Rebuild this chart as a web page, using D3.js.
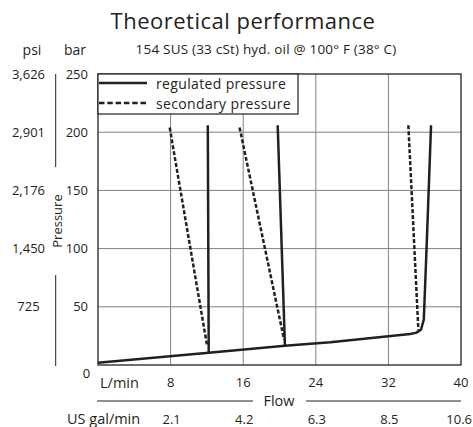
<!DOCTYPE html>
<html>
<head>
<meta charset="utf-8">
<script src="https://cdn.jsdelivr.net/npm/d3@7"></script>
<style>
  body { margin: 0; background: #fff; }
  svg text { font-family: "Open Sans", sans-serif; fill: #231f20; }
</style>
</head>
<body>
<svg id="canvas" width="473" height="427"></svg>
<script>
// chart values (flow in L/min, pressure in bar)
let barTicks = [50, 100, 150, 200, 250];
let psiLabels = ['725', '1,450', '2,176', '2,901', '3,626'];
let flowTicks = [8, 16, 24, 32, 40];
let galLabels = ['2.1', '4.2', '6.3', '8.5', '10.6'];

// regulated pressure: base line running into the third setting
let regBaseFlow = [0, 12.2, 20.6, 25.6, 34.4, 35.1, 35.6, 35.9, 36.2, 36.7];
let regBaseBar = [2, 10.5, 16.6, 19.5, 26.6, 27.8, 30.5, 39, 99, 206];
let reg1Flow = [12.1, 12.2];
let reg1Bar = [206, 10.5];
let reg2Flow = [19.8, 20.6];
let reg2Bar = [206, 16.6];

// secondary pressure
let sec1Flow = [7.9, 12.0];
let sec1Bar = [204, 17.6];
let sec2Flow = [15.6, 20.5];
let sec2Bar = [204, 21.9];
let sec3Flow = [34.2, 35.3];
let sec3Bar = [206, 30.4];

let canvas = d3.select('#canvas');

let plotLeft = 98, plotRight = 461, plotTop = 74, plotBottom = 365;
let wordSize = '14.5px', numSize = '13px';

let xScale = d3.scaleLinear().domain([0, 40]).range([plotLeft, plotRight]);
let yScale = d3.scaleLinear().domain([0, 250]).range([plotBottom, plotTop]);

let toPoints = (fx, by) => fx.map((f, i) => [f, by[i]]);

let line = d3.line()
    .x((d) => xScale(d[0]))
    .y((d) => yScale(d[1]));

// titles
canvas.append('text')
    .attr('x', 243).attr('y', 29)
    .attr('text-anchor', 'middle')
    .style('font-size', '22px')
    .style('letter-spacing', '0.5px')
    .text('Theoretical performance');

canvas.append('text')
    .attr('x', 266).attr('y', 54)
    .attr('text-anchor', 'middle')
    .style('font-size', '13.5px')
    .style('letter-spacing', '0.2px')
    .text('154 SUS (33 cSt) hyd. oil @ 100° F (38° C)');

canvas.append('text').attr('x', 32).attr('y', 55)
    .attr('text-anchor', 'middle').style('font-size', '14px').text('psi');
canvas.append('text').attr('x', 75).attr('y', 55)
    .attr('text-anchor', 'middle').style('font-size', '14px').text('bar');

// grid
let grid = canvas.append('g').attr('stroke', '#808080').attr('stroke-width', 1);
grid.selectAll('.hgrid')
    .data(barTicks.filter((t) => t < 250))
    .enter().append('line')
    .attr('x1', plotLeft).attr('x2', plotRight)
    .attr('y1', (d) => yScale(d)).attr('y2', (d) => yScale(d));
grid.selectAll('.vgrid')
    .data(flowTicks.filter((t) => t < 40))
    .enter().append('line')
    .attr('y1', plotTop).attr('y2', plotBottom)
    .attr('x1', (d) => xScale(d)).attr('x2', (d) => xScale(d));

// plot frame
canvas.append('rect')
    .attr('x', plotLeft).attr('y', plotTop)
    .attr('width', plotRight - plotLeft).attr('height', plotBottom - plotTop)
    .attr('fill', 'none').attr('stroke', '#231f20').attr('stroke-width', 1.3);

// legend
let legend = canvas.append('g');
legend.append('rect')
    .attr('x', plotLeft).attr('y', plotTop)
    .attr('width', 200).attr('height', 40)
    .attr('fill', '#fff').attr('stroke', '#231f20').attr('stroke-width', 1.2);
legend.append('line')
    .attr('x1', 99).attr('x2', 147).attr('y1', 83).attr('y2', 83)
    .attr('stroke', '#231f20').attr('stroke-width', 2.5);
legend.append('line')
    .attr('x1', 99).attr('x2', 147).attr('y1', 103).attr('y2', 103)
    .attr('stroke', '#231f20').attr('stroke-width', 2.5)
    .attr('stroke-dasharray', '5.5,2.8');
legend.append('text').attr('x', 156).attr('y', 88.5)
    .style('font-size', '14px').style('letter-spacing', '0.35px').text('regulated pressure');
legend.append('text').attr('x', 156).attr('y', 108.5)
    .style('font-size', '14px').style('letter-spacing', '0.35px').text('secondary pressure');

// curves
let curves = canvas.append('g').attr('fill', 'none').attr('stroke', '#231f20')
    .attr('stroke-width', 2.5).attr('stroke-linejoin', 'round');

[[regBaseFlow, regBaseBar], [reg1Flow, reg1Bar], [reg2Flow, reg2Bar]].forEach((s) => {
    curves.append('path').attr('d', line(toPoints(s[0], s[1])));
});
[[sec1Flow, sec1Bar], [sec2Flow, sec2Bar], [sec3Flow, sec3Bar]].forEach((s) => {
    curves.append('path').attr('d', line(toPoints(s[0], s[1])))
        .attr('stroke-dasharray', '4,2');
});

// left labels
canvas.selectAll('.barlab')
    .data(barTicks)
    .enter().append('text')
    .attr('x', 88).attr('y', (d) => yScale(d))
    .attr('dy', '0.35em')
    .attr('text-anchor', 'end')
    .style('font-size', numSize)
    .text((d) => d);
canvas.append('text').attr('x', 86.5).attr('y', 378)
    .attr('text-anchor', 'middle').style('font-size', numSize).text('0');

canvas.selectAll('.psilab')
    .data(psiLabels)
    .enter().append('text')
    .attr('x', 28.5).attr('y', (d, i) => yScale(barTicks[i]))
    .attr('dy', '0.35em')
    .attr('text-anchor', 'middle')
    .style('font-size', numSize)
    .text((d) => d);

canvas.append('line').attr('x1', 55.7).attr('x2', 55.7).attr('y1', 74).attr('y2', 167)
    .attr('stroke', '#231f20').attr('stroke-width', 1);
canvas.append('line').attr('x1', 55.7).attr('x2', 55.7).attr('y1', 275).attr('y2', 366)
    .attr('stroke', '#231f20').attr('stroke-width', 1);

canvas.append('text')
    .attr('transform', 'translate(62,221) rotate(-90)')
    .attr('text-anchor', 'middle')
    .style('font-size', '13px')
    .text('Pressure');

// bottom labels
canvas.append('text').attr('x', 100).attr('y', 387.5).style('font-size', wordSize).text('L/min');
canvas.selectAll('.flowlab')
    .data(flowTicks)
    .enter().append('text')
    .attr('x', (d) => xScale(d)).attr('y', 387)
    .attr('text-anchor', 'middle')
    .style('font-size', numSize)
    .text((d) => d);

canvas.append('line').attr('x1', 97).attr('x2', 253).attr('y1', 401).attr('y2', 401)
    .attr('stroke', '#231f20').attr('stroke-width', 1);
canvas.append('line').attr('x1', 306).attr('x2', 461).attr('y1', 401).attr('y2', 401)
    .attr('stroke', '#231f20').attr('stroke-width', 1);
canvas.append('text').attr('x', 279).attr('y', 406)
    .attr('text-anchor', 'middle').style('font-size', wordSize).text('Flow');

canvas.append('text').attr('x', 67).attr('y', 423.5).style('font-size', wordSize).text('US gal/min');
canvas.selectAll('.gallab')
    .data(galLabels)
    .enter().append('text')
    .attr('x', (d, i) => i === galLabels.length - 1 ? 472 : xScale(flowTicks[i]) + 1)
    .attr('y', 423.5)
    .attr('text-anchor', (d, i) => i === galLabels.length - 1 ? 'end' : 'middle')
    .style('font-size', numSize)
    .text((d) => d);
</script>
</body>
</html>
